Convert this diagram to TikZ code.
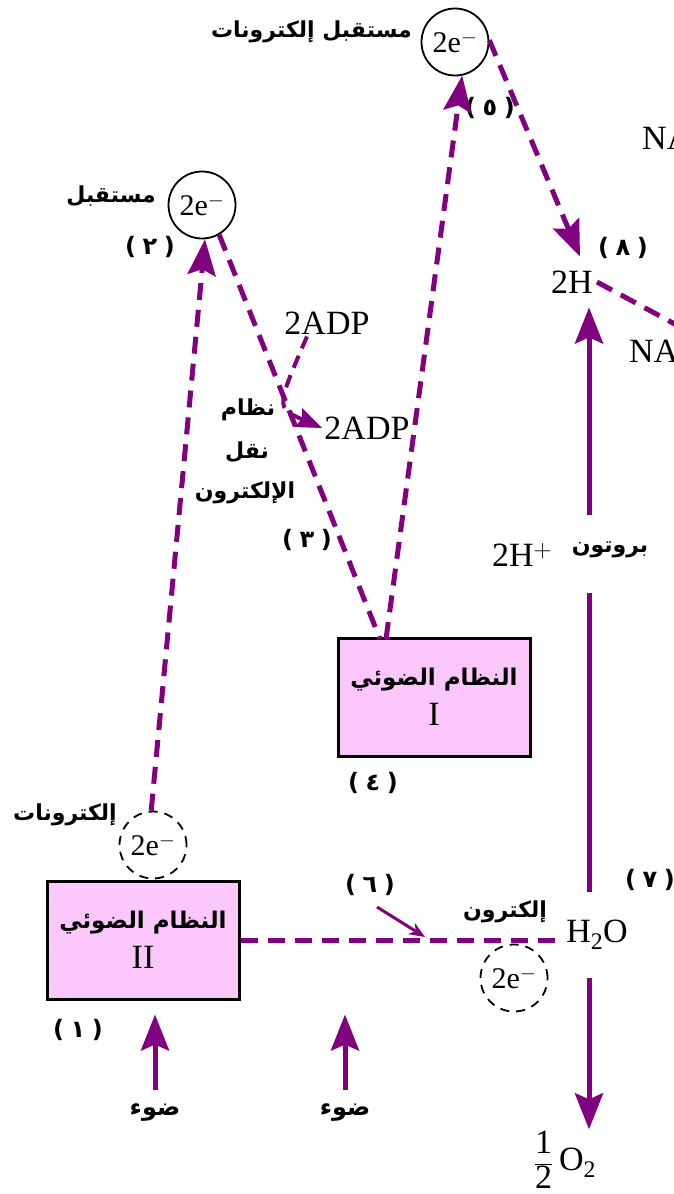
\documentclass[tikz,border=0pt]{standalone}
\usepackage{fontspec}
\setmainfont{Liberation Serif}
\newfontfamily\arabicfont[Script=Arabic]{DejaVu Sans}
\newfontfamily\parenfont{DejaVu Sans}
\TeXXeTstate=1
\usetikzlibrary{arrows.meta}
\definecolor{pathpurple}{RGB}{128,0,128}
\definecolor{psfill}{RGB}{252,200,252}
% bold Arabic text, right to left
\newcommand{\artxt}[1]{{\arabicfont\bfseries\beginR #1\endR}}
% step number in parentheses
\newcommand{\stepno}[1]{{\parenfont\bfseries(\;}{\arabicfont\bfseries #1}{\parenfont\bfseries\;)}}
\begin{document}
\begin{tikzpicture}[x=1pt, y=-1pt,
  pline/.style={draw=pathpurple, line width=5pt},
  dline/.style={pline, dash pattern=on 17pt off 10pt},
  bigtip/.style={-{Stealth[length=36pt, width=28pt, inset=6pt]}},
  midtip/.style={-{Stealth[length=26pt, width=20pt, inset=4pt]}},
  acc/.style={circle, draw=black, line width=1.8pt, minimum size=67pt, inner sep=0pt,
    font=\fontsize{30}{32}\selectfont},
  ghost/.style={acc, dash pattern=on 9pt off 7pt},
  psbox/.style={draw=black, line width=3pt, fill=psfill, minimum width=192pt,
    minimum height=118pt, align=center, inner sep=0pt, font=\fontsize{23}{30}\selectfont},
  lat/.style={font=\fontsize{34}{38}\selectfont, inner sep=2pt},
  arl/.style={font=\fontsize{22}{30}\selectfont, inner sep=1pt},
  num/.style={font=\fontsize{24}{28}\selectfont, inner sep=1pt}
]
\useasboundingbox (0,0) rectangle (674,1194);
\clip (0,0) rectangle (674,1194);

% photosystems
\node[psbox] (psI) at (434,697) {\artxt{النظام الضوئي}\\[10pt]{\fontsize{34}{38}\selectfont I}};
\node[psbox] (psII) at (143,940) {\artxt{النظام الضوئي}\\[10pt]{\fontsize{34}{38}\selectfont II}};

% electron acceptors and electron pairs
\node[acc] (accTop) at (455,42) {2e$^{-}$};
\node[acc] (accLeft) at (202,205) {2e$^{-}$};
\node[ghost] (eII) at (153,845) {2e$^{-}$};
\node[ghost] (eW) at (514,978) {2e$^{-}$};

% chemical labels
\node[lat] (adp1) at (327,323) {2ADP};
\node[lat] (adp2) at (367,428) {2ADP};
\node[lat, inner xsep=4pt, inner ysep=14pt] (twoH) at (572,282) {2H};
\node[lat] (hplus) at (522,555) {2H$^{+}$};
\node[lat, inner xsep=6pt, inner ysep=28pt] (h2o) at (597,935) {H\textsubscript{2}O};
\node[lat] (o2) at (565,1160) {$\displaystyle\frac{\mbox{1}}{\mbox{2}}$\,O\textsubscript{2}};
\node[lat, anchor=west] (nadp) at (640,138) {NADP};
\node[lat, anchor=west] (nadph) at (627,355) {NADPH\textsubscript{2}};

% Arabic labels
\node[arl, anchor=east] (lblTop) at (413,32) {\artxt{مستقبل إلكترونات}};
\node[arl, anchor=east] (lblLeft) at (157,196) {\artxt{مستقبل}};
\node[arl, anchor=east] (lblE) at (118,815) {\artxt{إلكترونات}};
\node[arl] (etc1) at (248,410) {\artxt{نظام}};
\node[arl] (etc2) at (247,452) {\artxt{نقل}};
\node[arl] (etc3) at (245,493) {\artxt{الإلكترون}};
\node[arl] (lblElectron) at (505,912) {\artxt{إلكترون}};
\node[arl] (lblProton) at (610,550) {\artxt{بروتون}};
\node[arl, font=\fontsize{24}{30}\selectfont] (light1) at (155,1113) {\artxt{ضوء}};
\node[arl, font=\fontsize{24}{30}\selectfont] (light2) at (345,1113) {\artxt{ضوء}};

% step numbers
\node[num] (s1) at (78,1030) {\stepno{١}};
\node[num] (s2) at (150,247) {\stepno{٢}};
\node[num] (s3) at (307,540) {\stepno{٣}};
\node[num] (s4) at (373,783) {\stepno{٤}};
\node[num] (s5) at (490,108) {\stepno{٥}};
\node[num] (s6) at (370,885) {\stepno{٦}};
\node[num] (s7) at (650,880) {\stepno{٧}};
\node[num] (s8) at (623,248) {\stepno{٨}};

% helper points
\coordinate (psIin) at (380,639);
\coordinate (psIout) at (386,639);
\coordinate (gapB) at (589,593);
\coordinate (gapT) at (589,515);
\coordinate (offR) at (760,370);
\coordinate (lightA) at (155,1090);
\coordinate (lightB) at (345,1090);
\coordinate (s6a) at (377,907);
\coordinate (s6b) at (425,937);
\coordinate (adpBend) at (276,408);

% electron flow
\draw[dline, bigtip] (eII.93) -- (accLeft.-85);
\draw[dline] (accLeft.-60) -- (psIin);
\draw[dline, bigtip] (psIout) -- (accTop.-78);
\draw[dline, bigtip] (accTop.3) -- ([xshift=8pt]twoH.north);
\draw[dline] (twoH.east) -- (offR);
\draw[dline] (psII.east) -- (h2o.west |- psII.east);
\draw[pline, dash pattern=on 13pt off 8pt, line width=4pt, midtip]
  ([xshift=-20pt]adp1.south) .. controls (adpBend) .. (adp2.west);

% protons and oxygen
\draw[pline] (h2o.north -| gapB) -- (gapB);
\draw[pline, bigtip] (gapT) -- (twoH.south -| gapT);
\draw[pline, bigtip] (h2o.south -| gapB) -- (o2.north -| gapB);

% light
\draw[pline, bigtip] (lightA) -- ([yshift=-14pt]psII.south -| lightA);
\draw[pline, bigtip] (lightB) -- ([yshift=-14pt]psII.south -| lightB);
\draw[draw=pathpurple, line width=3pt, -{Stealth[length=16pt, width=13pt]}] (s6a) -- (s6b);
\end{tikzpicture}
\end{document}
